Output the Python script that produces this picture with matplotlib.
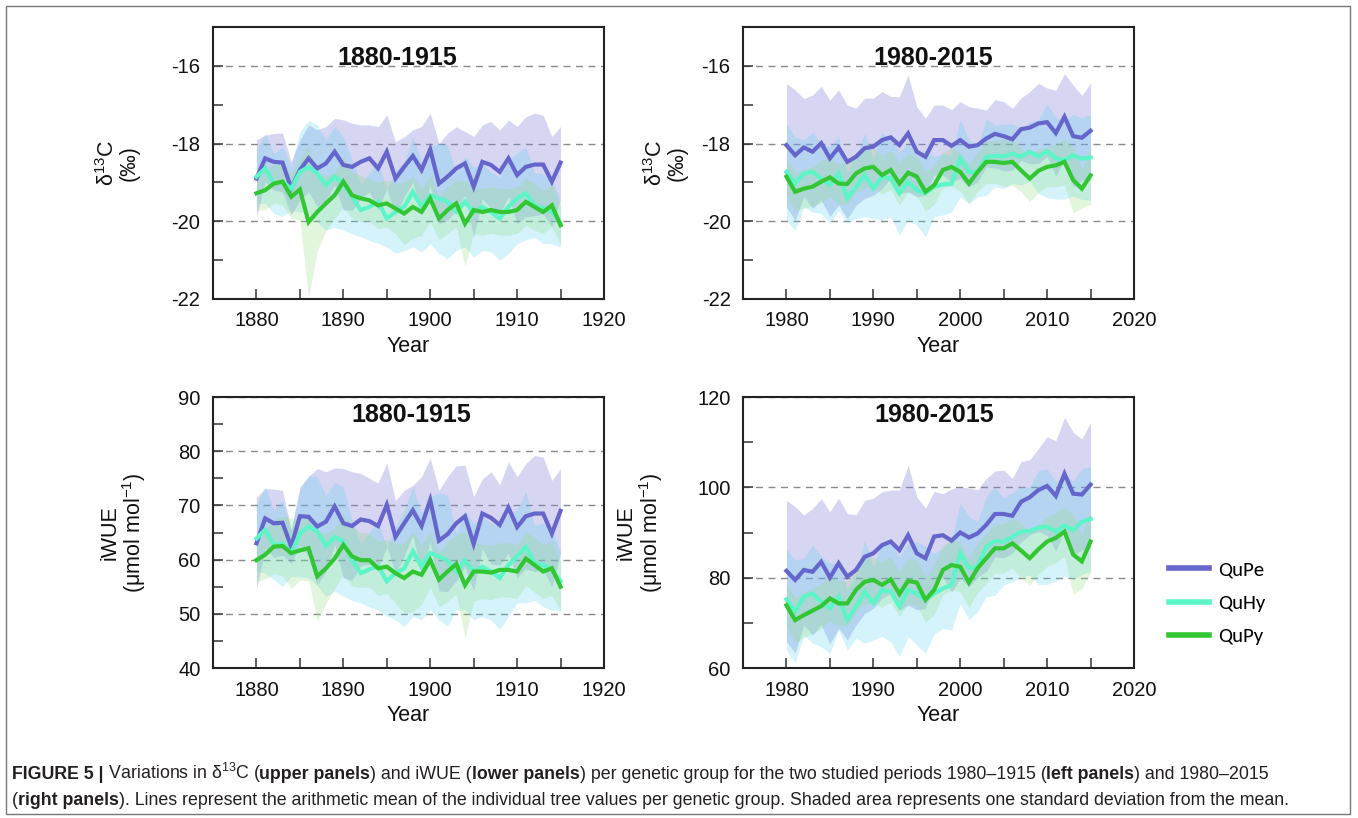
import matplotlib
matplotlib.use('Agg')
import matplotlib.pyplot as plt
import numpy as np
from matplotlib.patches import Rectangle
from matplotlib.ticker import MultipleLocator

plt.rcParams['font.family'] = ['Liberation Sans', 'DejaVu Sans']
plt.rcParams['mathtext.fontset'] = 'custom'
plt.rcParams['mathtext.rm'] = 'Liberation Sans'
plt.rcParams['mathtext.it'] = 'Liberation Sans:italic'
plt.rcParams['mathtext.bf'] = 'Liberation Sans:bold'
plt.rcParams['axes.unicode_minus'] = False

# ---------------- data ----------------
years_early = list(range(1880, 1916))
years_late = list(range(1980, 2016))
group_names = ['QuPe', 'QuHy', 'QuPy']

# delta13C 1880-1915
d13c_early_qupe = [-18.90, -18.38, -18.47, -18.49, -19.15, -18.68, -18.38, -18.64, -18.51, -18.21,
                   -18.55, -18.60, -18.47, -18.38, -18.64, -18.21, -18.90, -18.60, -18.32, -18.68,
                   -18.15, -19.03, -18.85, -18.64, -18.51, -19.11, -18.47, -18.55, -18.73, -18.38,
                   -18.81, -18.60, -18.54, -18.54, -18.98, -18.49]
d13c_early_quhy = [-18.85, -18.64, -19.03, -18.98, -19.16, -18.73, -18.60, -18.77, -19.07, -18.85,
                   -19.03, -19.37, -19.71, -19.63, -19.50, -19.93, -19.76, -19.63, -19.24, -19.63,
                   -19.33, -19.41, -19.50, -19.76, -19.50, -19.76, -19.63, -19.76, -19.93, -19.63,
                   -19.41, -19.28, -19.59, -19.67, -19.76, -20.06]
d13c_early_qupy = [-19.28, -19.20, -19.03, -18.98, -19.37, -19.18, -20.02, -19.76, -19.54, -19.33,
                   -18.98, -19.33, -19.41, -19.46, -19.59, -19.54, -19.67, -19.80, -19.63, -19.76,
                   -19.41, -19.93, -19.71, -19.54, -20.06, -19.71, -19.76, -19.71, -19.76, -19.76,
                   -19.71, -19.50, -19.63, -19.76, -19.59, -20.10]
d13c_early_qupe_sd = [0.99, 0.60, 0.73, 0.76, 0.69, 0.77, 0.86, 0.99, 0.95, 0.86,
                      1.16, 1.12, 0.95, 0.86, 1.07, 0.95, 0.95, 0.77, 0.67, 1.12,
                      0.93, 1.03, 1.12, 1.07, 0.82, 1.29, 0.95, 1.12, 1.07, 0.99,
                      1.25, 1.29, 1.32, 1.27, 1.16, 0.93]
d13c_early_quhy_sd = [0.69, 0.90, 0.77, 0.90, 0.56, 1.03, 1.20, 1.25, 1.16, 1.30,
                      1.20, 0.95, 0.69, 0.86, 1.07, 0.73, 1.07, 1.12, 1.42, 1.16,
                      1.25, 1.42, 1.46, 0.99, 1.16, 1.16, 1.12, 1.03, 1.07, 1.20,
                      1.16, 1.20, 0.82, 0.90, 0.82, 0.60]
d13c_early_qupy_sd = [0.45, 0.50, 0.50, 0.60, 0.55, 0.80, 1.95, 1.00, 0.70, 0.60,
                      0.65, 0.60, 0.60, 0.55, 0.60, 0.60, 0.65, 0.80, 0.80, 0.60,
                      0.60, 0.55, 0.60, 0.60, 1.10, 0.60, 0.60, 0.60, 0.60, 0.60,
                      0.60, 0.60, 0.60, 0.55, 0.55, 0.50]

# delta13C 1980-2015
d13c_late_qupe = [-18.04, -18.30, -18.10, -18.21, -17.99, -18.38, -18.10, -18.47, -18.34, -18.12,
                  -18.08, -17.91, -17.84, -18.04, -17.74, -18.21, -18.34, -17.91, -17.91, -18.06,
                  -17.91, -18.08, -18.04, -17.87, -17.75, -17.81, -17.89, -17.63, -17.59, -17.48,
                  -17.45, -17.73, -17.31, -17.81, -17.85, -17.67]
d13c_late_quhy = [-18.73, -19.03, -18.77, -18.73, -18.90, -19.07, -18.77, -19.41, -19.11, -18.81,
                  -19.16, -18.85, -18.90, -19.28, -18.98, -19.20, -19.28, -19.11, -19.05, -19.03,
                  -18.38, -18.73, -18.73, -18.34, -18.32, -18.33, -18.26, -18.34, -18.21, -18.34,
                  -18.19, -18.38, -18.43, -18.30, -18.39, -18.36]
d13c_late_qupy = [-18.85, -19.24, -19.16, -19.11, -18.98, -18.87, -19.03, -19.04, -18.77, -18.64,
                  -18.60, -18.81, -18.68, -19.03, -18.75, -18.85, -19.24, -19.07, -18.68, -18.60,
                  -18.73, -19.03, -18.73, -18.47, -18.47, -18.50, -18.47, -18.69, -18.90, -18.70,
                  -18.60, -18.56, -18.47, -18.94, -19.16, -18.82]
d13c_late_qupe_sd = [1.59, 1.68, 1.26, 1.46, 1.46, 1.50, 1.48, 1.46, 1.25, 1.29,
                     1.25, 1.25, 1.05, 1.25, 1.50, 1.16, 0.99, 0.90, 0.90, 0.93,
                     0.99, 1.03, 0.95, 0.73, 0.88, 0.89, 0.80, 0.80, 0.93, 1.03,
                     0.88, 1.10, 1.11, 1.31, 1.09, 1.22]
d13c_late_quhy_sd = [1.25, 1.20, 0.86, 1.03, 0.90, 0.99, 0.95, 0.64, 0.82, 1.07,
                     0.77, 1.12, 0.99, 1.07, 0.99, 0.90, 1.12, 0.77, 0.79, 0.73,
                     0.99, 0.82, 0.64, 0.99, 0.79, 0.83, 0.77, 0.73, 0.77, 0.95,
                     1.20, 1.05, 1.00, 1.05, 1.05, 1.10]
d13c_late_qupy_sd = [0.45, 0.50, 0.50, 0.50, 0.55, 0.50, 0.50, 0.55, 0.50, 0.50,
                     0.50, 0.50, 0.50, 0.55, 0.50, 0.50, 0.50, 0.50, 0.45, 0.50,
                     0.50, 0.50, 0.50, 0.55, 0.55, 0.60, 0.60, 0.55, 0.60, 0.55,
                     0.50, 0.55, 0.60, 0.85, 0.50, 0.75]

# iWUE 1880-1915
iwue_early_qupe = [63.0, 67.6, 66.7, 66.8, 62.4, 68.0, 67.9, 66.1, 67.0, 69.8,
                   66.7, 66.2, 67.4, 67.1, 66.2, 70.1, 64.2, 66.7, 69.1, 66.2,
                   71.0, 63.5, 64.7, 66.7, 68.0, 62.9, 68.5, 67.7, 66.4, 69.6,
                   66.0, 68.0, 68.5, 68.5, 64.8, 69.0]
iwue_early_quhy = [63.9, 65.5, 62.7, 63.0, 61.2, 64.8, 66.1, 65.2, 62.5, 64.2,
                   63.3, 59.9, 57.5, 58.2, 58.8, 56.0, 57.5, 58.4, 61.5, 58.7,
                   61.2, 60.6, 59.8, 57.8, 59.8, 57.8, 58.7, 57.8, 56.6, 59.0,
                   60.6, 62.3, 59.4, 59.0, 58.1, 56.0]
iwue_early_qupy = [59.9, 60.9, 62.4, 62.5, 61.2, 61.7, 62.1, 56.9, 58.4, 60.2,
                   62.7, 60.6, 59.9, 59.9, 58.4, 58.7, 57.5, 56.6, 57.8, 57.2,
                   59.9, 56.3, 57.8, 59.2, 55.3, 57.8, 57.8, 57.6, 58.1, 58.1,
                   57.8, 60.2, 59.0, 57.8, 58.4, 55.0]
iwue_early_qupe_sd = [8.5, 5.5, 6.3, 6.0, 3.1, 5.4, 7.4, 10.7, 9.2, 7.1,
                      10.1, 10.0, 8.5, 7.9, 7.9, 7.7, 6.7, 6.1, 4.6, 9.1,
                      7.7, 9.3, 10.6, 10.6, 9.4, 8.7, 6.4, 8.5, 7.4, 8.4,
                      9.3, 9.7, 10.7, 10.4, 9.8, 7.8]
iwue_early_quhy_sd = [6.1, 8.0, 6.4, 8.0, 4.3, 8.0, 9.5, 10.0, 9.3, 10.0,
                      10.1, 7.4, 5.5, 6.9, 8.1, 6.4, 8.6, 10.7, 12.0, 9.8,
                      10.4, 11.7, 12.1, 7.1, 9.1, 8.9, 9.2, 8.9, 9.5, 9.5,
                      8.6, 10.3, 6.9, 7.7, 7.4, 5.5]
iwue_early_qupy_sd = [4.0, 4.5, 5.0, 5.5, 6.5, 5.5, 6.0, 8.3, 6.5, 5.5,
                      5.5, 5.5, 5.0, 5.0, 5.0, 5.0, 5.5, 6.5, 7.4, 5.5,
                      5.0, 5.0, 5.5, 5.5, 9.8, 5.5, 5.0, 5.0, 5.0, 5.0,
                      5.0, 5.0, 5.0, 5.0, 5.0, 4.5]

# iWUE 1980-2015
iwue_late_qupe = [81.5, 79.5, 81.7, 81.3, 83.5, 80.0, 83.2, 80.2, 81.7, 84.6,
                  85.4, 87.2, 88.0, 86.1, 89.4, 85.4, 84.3, 89.1, 89.4, 88.2,
                  90.0, 88.9, 89.8, 91.7, 94.1, 94.1, 93.7, 96.8, 97.8, 99.4,
                  100.3, 98.1, 103.0, 98.6, 98.4, 100.6]
iwue_late_quhy = [75.2, 72.5, 75.8, 76.4, 74.7, 73.2, 75.8, 70.6, 73.6, 76.9,
                  74.3, 77.3, 76.9, 73.6, 77.3, 76.5, 75.1, 76.5, 77.6, 78.4,
                  85.4, 82.1, 82.4, 86.9, 88.1, 88.0, 89.0, 90.2, 90.3, 91.1,
                  91.3, 90.2, 91.6, 90.5, 92.4, 93.0]
iwue_late_qupy = [73.9, 70.6, 71.7, 72.7, 73.7, 75.4, 74.3, 74.3, 77.3, 79.1,
                  79.5, 78.4, 79.6, 76.4, 79.3, 78.9, 75.1, 77.3, 81.7, 82.8,
                  82.4, 78.9, 82.1, 84.3, 86.5, 86.5, 87.6, 86.0, 84.3, 86.3,
                  88.0, 88.8, 90.2, 85.1, 83.6, 88.0]
iwue_late_qupe_sd = [15.6, 16.2, 12.2, 14.0, 14.0, 14.6, 14.4, 14.0, 12.2, 12.5,
                     12.2, 11.8, 11.4, 13.3, 15.5, 12.5, 11.1, 10.0, 9.2, 11.4,
                     10.2, 10.9, 9.7, 10.3, 9.5, 9.7, 8.3, 8.9, 8.3, 9.2,
                     10.9, 12.2, 12.5, 13.6, 12.3, 13.8]
iwue_late_quhy_sd = [11.2, 11.4, 8.5, 10.9, 10.0, 10.0, 7.4, 6.6, 7.0, 11.4,
                     8.1, 10.3, 11.1, 11.1, 10.3, 11.4, 11.8, 8.9, 8.9, 10.0,
                     11.1, 11.4, 10.0, 11.1, 12.0, 9.6, 9.9, 10.0, 9.7, 12.6,
                     12.8, 11.0, 11.3, 10.9, 11.7, 11.6]
iwue_late_qupy_sd = [4.5, 5.0, 5.0, 5.0, 5.0, 5.0, 5.0, 5.0, 5.0, 5.0,
                     5.0, 5.0, 5.0, 5.0, 5.0, 5.0, 5.0, 5.5, 5.5, 5.5,
                     5.5, 5.5, 5.5, 5.5, 5.5, 5.5, 5.5, 6.0, 6.0, 5.5,
                     5.5, 5.5, 5.5, 8.8, 6.0, 7.0]

panel_titles = ['1880-1915', '1980-2015', '1880-1915', '1980-2015']
xtick_labels_early = ['1880', '1890', '1900', '1910', '1920']
xtick_labels_late = ['1980', '1990', '2000', '2010', '2020']

# ---------------- style ----------------
line_colors = ['#6565CC', '#5CF5C8', '#33C633']
fill_colors = ['#8482DA', '#55D2F2', '#8EDC7E']
fill_alphas = [0.33, 0.25, 0.25]

W, H = 1358, 818
fig = plt.figure(figsize=(W / 100, H / 100), dpi=100)

def px_rect(l, t, r, b):
    return [l / W, 1 - b / H, (r - l) / W, (b - t) / H]

axes = [fig.add_axes(px_rect(213, 27, 604, 299)),
        fig.add_axes(px_rect(743, 27, 1134, 299)),
        fig.add_axes(px_rect(213, 397, 604, 668)),
        fig.add_axes(px_rect(743, 397, 1134, 668))]

panels = [
    (years_early, [d13c_early_qupe, d13c_early_quhy, d13c_early_qupy],
     [d13c_early_qupe_sd, d13c_early_quhy_sd, d13c_early_qupy_sd],
     (-22, -15), 2, 1, (1875, 1920), xtick_labels_early),
    (years_late, [d13c_late_qupe, d13c_late_quhy, d13c_late_qupy],
     [d13c_late_qupe_sd, d13c_late_quhy_sd, d13c_late_qupy_sd],
     (-22, -15), 2, 1, (1975, 2020), xtick_labels_late),
    (years_early, [iwue_early_qupe, iwue_early_quhy, iwue_early_qupy],
     [iwue_early_qupe_sd, iwue_early_quhy_sd, iwue_early_qupy_sd],
     (40, 90), 10, 5, (1875, 1920), xtick_labels_early),
    (years_late, [iwue_late_qupe, iwue_late_quhy, iwue_late_qupy],
     [iwue_late_qupe_sd, iwue_late_quhy_sd, iwue_late_qupy_sd],
     (60, 120), 20, 10, (1975, 2020), xtick_labels_late),
]

title_pos = [(0.47, 0.885), (0.486, 0.885), (0.506, 0.934), (0.488, 0.934)]
ylabels = ['δ$^{13}$C\n(‰)', 'δ$^{13}$C\n(‰)', 'iWUE\n(μmol mol$^{-1}$)', 'iWUE\n(μmol mol$^{-1}$)']
ylabel_x = [-0.187, -0.141, -0.166, -0.20]

handles = []
for i, (ax, (yrs, means, sds, ylim, maj, mnr, xlim, xlabs)) in enumerate(zip(axes, panels)):
    x = np.array(yrs)
    for k in range(3):
        m = np.array(means[k]); s = np.array(sds[k])
        ax.fill_between(x, m - s, m + s, color=fill_colors[k], alpha=fill_alphas[k],
                        linewidth=0, zorder=1 + k * 0.1)
    for k in range(3):
        ln, = ax.plot(x, means[k], color=line_colors[k], lw=3.0, zorder=3 + k * 0.1,
                      label=group_names[k], solid_joinstyle='miter')
        if i == 3:
            handles.append(ln)
    ax.set_xlim(*xlim)
    ax.set_ylim(*ylim)
    ax.yaxis.set_major_locator(MultipleLocator(maj))
    ax.yaxis.set_minor_locator(MultipleLocator(mnr))
    ax.xaxis.set_major_locator(MultipleLocator(10))
    ax.xaxis.set_minor_locator(MultipleLocator(5))
    xt = [xlim[0] + 5 + 10 * j for j in range(len(xlabs))]
    ax.set_xticks(xt)
    ax.set_xticklabels(xlabs)
    ax.grid(axis='y', which='major', linestyle=(0, (5, 4)), color='#8a8a8a', lw=1.0)
    ax.set_axisbelow(True)
    ax.tick_params(which='both', direction='in', length=7, width=1.1, color='#333333',
                   labelsize=14.5, labelcolor='#111111')
    ax.tick_params(axis='y', which='both', pad=9)
    ax.tick_params(axis='x', which='both', pad=9)
    for sp in ax.spines.values():
        sp.set_linewidth(1.5)
        sp.set_color('#222222')
    ax.set_xlabel('Year', fontsize=15.5, labelpad=4, color='#111111')
    ax.set_ylabel(ylabels[i], fontsize=15.5, color='#111111', linespacing=1.0)
    ax.yaxis.set_label_coords(ylabel_x[i], 0.5)
    ax.text(title_pos[i][0], title_pos[i][1], panel_titles[i], transform=ax.transAxes,
            ha='center', va='center', fontsize=18, fontweight='bold', color='#111111')

leg = fig.legend(handles, group_names, loc='upper left', bbox_to_anchor=(1169 / W, 1 - 561 / H),
                 frameon=False, prop=dict(family=['Carlito', 'Lato', 'DejaVu Sans'], size=15),
                 handlelength=1.92, handletextpad=0.43, labelspacing=0.76, borderpad=0,
                 borderaxespad=0)
for l in leg.get_lines():
    l.set_linewidth(4)

# frame around the figure
fig.add_artist(Rectangle((6 / W, 4 / H), 1344 / W, 808 / H, transform=fig.transFigure,
                         fill=False, edgecolor='#777777', lw=1.0))

# caption with mixed weights
cap_family = ['Liberation Sans Narrow', 'Liberation Sans', 'DejaVu Sans']
line1 = [('FIGURE 5 |', 'bold'), (' Variations in δ$^{13}$C (', 'normal'), ('upper panels', 'bold'),
         (') and iWUE (', 'normal'), ('lower panels', 'bold'),
         (') per genetic group for the two studied periods 1980–1915 (', 'normal'),
         ('left panels', 'bold'), (') and 1980–2015', 'normal')]
line2 = [('(', 'normal'), ('right panels', 'bold'),
         ('). Lines represent the arithmetic mean of the individual tree values per genetic group. '
          'Shaded area represents one standard deviation from the mean.', 'normal')]

renderer = fig.canvas.get_renderer()

def piece_width(s, weight, size):
    a = fig.text(0, 0, '|' + s + '|', fontsize=size, fontweight=weight, family=cap_family)
    b = fig.text(0, 0, '||', fontsize=size, fontweight=weight, family=cap_family)
    w = a.get_window_extent(renderer).width - b.get_window_extent(renderer).width
    a.remove(); b.remove()
    return w

def line_width(pieces, size):
    return sum(piece_width(s, w, size) for s, w in pieces)

base = 10.0
cap_size = base * (1284.0 / line_width(line2, base))

def draw_line(pieces, x0, y_base, size):
    x = x0
    for s, w in pieces:
        fig.text(x / W, 1 - y_base / H, s, fontsize=size, fontweight=w, family=cap_family,
                 ha='left', va='baseline', color='#231f20')
        x += piece_width(s, w, size)

draw_line(line1, 12, 779, cap_size)
draw_line(line2, 12, 805, cap_size)

fig.savefig('out.png', dpi=100)
